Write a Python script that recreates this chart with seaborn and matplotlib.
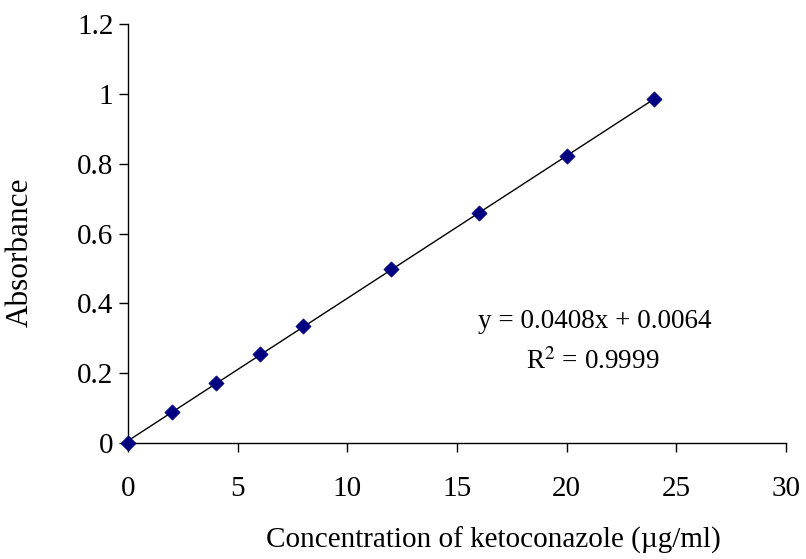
import numpy as np
import pandas as pd
import matplotlib
matplotlib.use("Agg")
import matplotlib.pyplot as plt
import seaborn as sns

# Calibration standards
concentration = [0, 2, 4, 6, 8, 12, 16, 20, 24]
absorbance = [0.0, 0.088, 0.173, 0.254, 0.334, 0.497, 0.660, 0.821, 0.985]

# Linear regression result
slope = 0.0408
intercept = 0.0064
r_squared = 0.9999

x_ticks = [0, 5, 10, 15, 20, 25, 30]
y_ticks = [0, 0.2, 0.4, 0.6, 0.8, 1.0, 1.2]
y_tick_labels = ["0", "0.2", "0.4", "0.6", "0.8", "1", "1.2"]

sns.set_theme(style="white")
plt.rcParams["font.family"] = ["Liberation Serif", "DejaVu Serif"]
plt.rcParams["mathtext.fontset"] = "stix"

df = pd.DataFrame({"conc": concentration, "abs": absorbance})
fit = pd.DataFrame({"conc": [concentration[0], concentration[-1]]})
fit["abs"] = slope * fit["conc"] + intercept

fig = plt.figure(figsize=(8.06, 5.59), dpi=100)
ax = fig.add_axes([0.1588, 0.2075, 0.8162, 0.7495])

sns.lineplot(data=fit, x="conc", y="abs", ax=ax, color="black", linewidth=1.0)
sns.scatterplot(data=df, x="conc", y="abs", ax=ax, marker="D", s=60,
                color="#000080", edgecolor="#000080", linewidth=0.5, zorder=3,
                clip_on=False)

ax.set_xlim(0, 30)
ax.set_ylim(0, 1.2)
ax.set_xticks(x_ticks)
ax.set_yticks(y_ticks)
ax.set_yticklabels(y_tick_labels)
ax.tick_params(axis="both", labelsize=21, direction="out", length=6.5, width=1,
               color="black", labelcolor="black", bottom=True, left=True)
ax.tick_params(axis="x", pad=17)
ax.tick_params(axis="y", pad=4)

for side in ["top", "right"]:
    ax.spines[side].set_visible(False)
for side in ["left", "bottom"]:
    ax.spines[side].set_color("black")
    ax.spines[side].set_linewidth(1.0)

ax.set_xlabel("Concentration of ketoconazole (µg/ml)", fontsize=21,
              color="black")
ax.xaxis.set_label_coords(0.555, -0.2)
ax.set_ylabel("Absorbance", fontsize=22.5, color="black")
ax.yaxis.set_label_coords(-0.141, 0.456)

ax.text(21.3, 0.347, f"y = {slope:.4f}x + {intercept:.4f}", fontsize=19.5,
        ha="center", va="center", color="black")
ax.text(21.2, 0.232, f"R$^2$ = {r_squared:.4f}", fontsize=19.5,
        ha="center", va="center", color="black")

fig.savefig("out.png", dpi=100, facecolor="white")
